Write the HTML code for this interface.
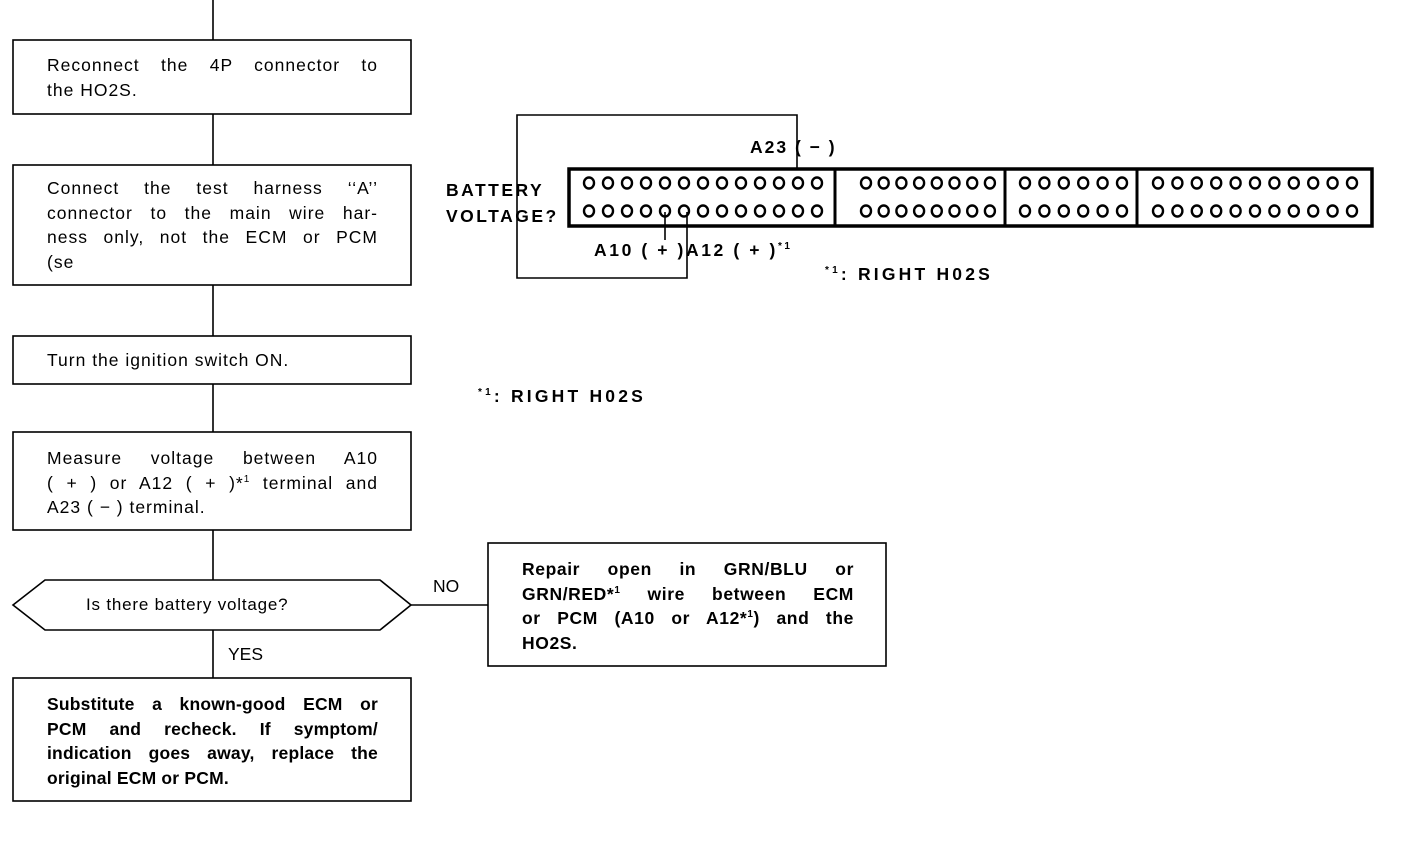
<!DOCTYPE html>
<html><head><meta charset="utf-8"><style>
body{margin:0;width:1408px;height:858px;background:#fff;position:relative;overflow:hidden;font-family:"Liberation Sans",Arial,sans-serif;color:#000}
.t{position:absolute;font-size:17.5px;line-height:24.5px;letter-spacing:1px}
.t span{display:block;text-align:justify;text-align-last:justify;height:24.5px;white-space:nowrap}
.t span.e{text-align-last:left}
.b{font-weight:bold}
.l{position:absolute;font-size:17.5px;white-space:nowrap}
sup{font-size:10px;line-height:0}
svg{position:absolute;left:0;top:0}
</style></head><body>
<svg width="1408" height="858" fill="none" stroke="#000">
<g stroke-width="1.6">
<line x1="213" y1="0" x2="213" y2="40"/>
<rect x="13" y="40" width="398" height="74"/>
<line x1="213" y1="114" x2="213" y2="165"/>
<rect x="13" y="165" width="398" height="120"/>
<line x1="213" y1="285" x2="213" y2="336"/>
<rect x="13" y="336" width="398" height="48"/>
<line x1="213" y1="384" x2="213" y2="432"/>
<rect x="13" y="432" width="398" height="98"/>
<line x1="213" y1="530" x2="213" y2="580"/>
<polygon points="13,605 45,580 380,580 411,605 380,630 45,630"/>
<line x1="411" y1="605" x2="488" y2="605"/>
<rect x="488" y="543" width="398" height="123"/>
<line x1="213" y1="630" x2="213" y2="678"/>
<rect x="13" y="678" width="398" height="123"/>
<polyline points="797,170 797,115 517,115 517,278 687,278 687,212"/>
<line x1="665" y1="212" x2="665" y2="240"/>
</g>
<rect x="569" y="169" width="803" height="57" stroke-width="3.5"/>
<g stroke-width="3"><line x1="835" y1="169" x2="835" y2="226"/><line x1="1005" y1="169" x2="1005" y2="226"/><line x1="1137" y1="169" x2="1137" y2="226"/></g>
<g stroke-width="2.4" id="c"></g>
</svg>
<script>
var xs=[];for(var i=0;i<13;i++)xs.push(589+19*i);for(i=0;i<8;i++)xs.push(866+17.7*i);for(i=0;i<6;i++)xs.push(1025+19.4*i);for(i=0;i<11;i++)xs.push(1158+19.4*i);
var g=document.getElementById('c'),s='';xs.forEach(function(x){[183,211].forEach(function(y){s+='<ellipse cx="'+x+'" cy="'+y+'" rx="5" ry="5.5"/>';});});g.innerHTML=s;
</script>
<div class="t" style="left:47px;top:53px;width:331px"><span>Reconnect the 4P connector to</span><span class="e">the HO2S.</span></div>
<div class="t" style="left:47px;top:176px;width:331px"><span>Connect the test harness ‘‘A’’</span><span>connector to the main wire har-</span><span>ness only, not the ECM or PCM</span><span class="e">(se</span></div>
<div class="t" style="left:47px;top:348px;width:331px"><span class="e">Turn the ignition switch ON.</span></div>
<div class="t" style="left:47px;top:446px;width:331px"><span>Measure voltage between A10</span><span>( + ) or A12 ( + )*<sup>1</sup> terminal and</span><span class="e">A23 ( − ) terminal.</span></div>
<div class="l" style="left:86px;top:595px;font-size:17px;letter-spacing:0.8px">Is there battery voltage?</div>
<div class="l" style="left:433px;top:576px">NO</div>
<div class="l" style="left:228px;top:644px">YES</div>
<div class="t b" style="left:522px;top:557px;width:332px;letter-spacing:0.6px"><span>Repair open in GRN/BLU or</span><span>GRN/RED*<sup>1</sup> wire between ECM</span><span>or PCM (A10 or A12*<sup>1</sup>) and the</span><span class="e">HO2S.</span></div>
<div class="t b" style="left:47px;top:692px;width:331px;letter-spacing:0.2px"><span>Substitute a known-good ECM or</span><span>PCM and recheck. If symptom/</span><span>indication goes away, replace the</span><span class="e">original ECM or PCM.</span></div>
<div class="l b" style="left:750px;top:137px;letter-spacing:2px">A23 ( − )</div>
<div class="l b" style="left:446px;top:177px;line-height:26px;letter-spacing:2.5px">BATTERY<br>VOLTAGE?</div>
<div class="l b" style="left:594px;top:240px;letter-spacing:2.6px">A10 ( + )A12 ( + )<sup>*1</sup></div>
<div class="l b" style="left:825px;top:264px;letter-spacing:3.2px"><sup>*1</sup>: RIGHT H02S</div>
<div class="l b" style="left:478px;top:386px;letter-spacing:3.2px"><sup>*1</sup>: RIGHT H02S</div>
</body></html>
